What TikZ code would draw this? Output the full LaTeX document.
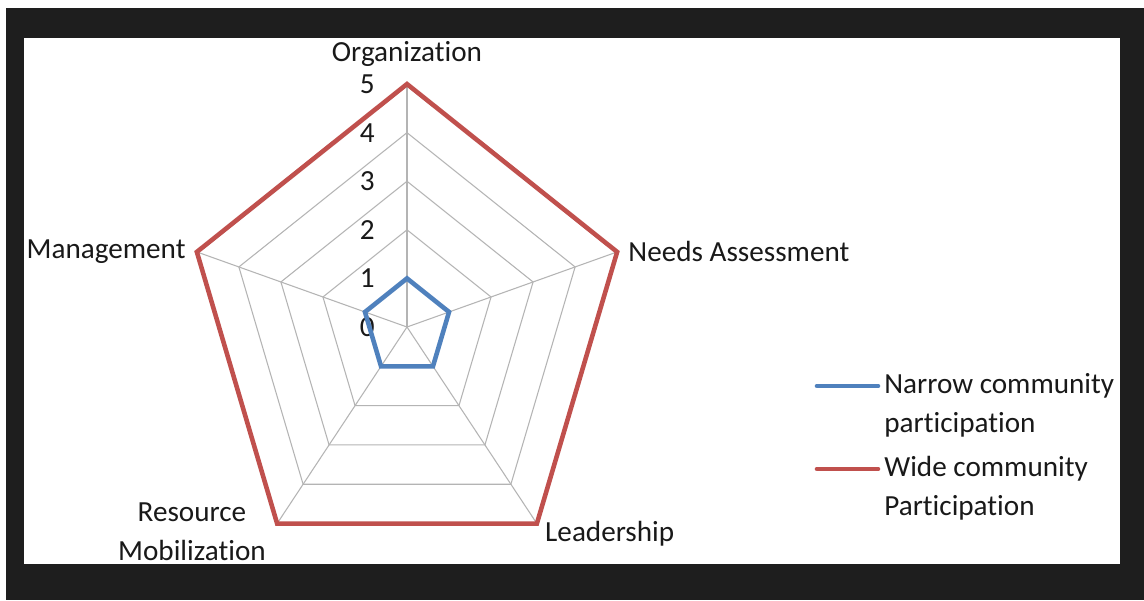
\documentclass[tikz,border=0pt]{standalone}
\usepackage{fontspec}
\setmainfont{Carlito}[RawFeature={-liga}]
\usetikzlibrary{positioning}
\definecolor{framegray}{HTML}{1E1E1E}
\definecolor{gridgray}{HTML}{B4B4B4}
\definecolor{narrowblue}{HTML}{4F81BD}
\definecolor{widered}{HTML}{C0504D}
\tikzset{
  lbl/.style={inner sep=0pt, text=black!90, font=\fontsize{16.6}{22}\selectfont},
  gridline/.style={gridgray, line width=0.6pt},
  series/.style={line width=2.6pt, line join=miter}
}

\begin{document}
\begin{tikzpicture}[x=0.02cm,y=-0.02cm]
            \useasboundingbox (0,0) rectangle (1144,600);
            \fill[white] (0,0) rectangle (1144,600);
            \fill[framegray] (6,8) rectangle (1144,600);
            \fill[white] (24,38) rectangle (1120,564);
            \coordinate (c) at (407,327);
            \begin{scope}[shift={(c)},x=0.884cm,y=0.972cm]
                \foreach \a in {90,162,234,306,18}
                    \draw[gridline] (0,0) -- (\a:5);
                \foreach \r in {1,2,3,4}
                    \draw[gridline] (90:\r) -- (162:\r) -- (234:\r) -- (306:\r) -- (18:\r) -- cycle;
                \foreach \r in {0,1,2,3,4,5}
                    \node[lbl] (t\r) at (-0.9,\r) {\r};
                \coordinate (org) at (90:5);
                \coordinate (man) at (162:5);
                \coordinate (res) at (234:5);
                \coordinate (lead) at (306:5);
                \coordinate (needs) at (18:5);
                \draw[series,widered] (org) -- (man) -- (res) -- (lead) -- (needs) -- cycle;
                \draw[series,narrowblue] (90:1) -- (162:1) -- (234:1) -- (306:1) -- (18:1) -- cycle;
            \end{scope}
            \node[lbl, above=0.34cm of org] (lorg) {Organization};
            \node[lbl, left=0.22cm of man] (lman) {Management};
            \node[lbl, right=0.22cm of needs] (lneeds) {Needs Assessment};
            \node[lbl, below right=-0.06cm and 0.16cm of lead] (llead) {Leadership};
            \node[lbl, align=center, left=0.22cm of res, yshift=-0.16cm] (lres) {Resource\\Mobilization};
            % legend
            \coordinate (kn) at (878,386);
            \coordinate (kw) at (878,469);
            \draw[series,narrowblue,line cap=round] (kn) -- ++(-61,0);
            \draw[series,widered,line cap=round] (kw) -- ++(-61,0);
            \node[lbl, align=left, anchor=west] (legn) at (884,405) {Narrow community\\participation};
            \node[lbl, align=left, anchor=west] (legw) at (884,488) {Wide community\\Participation};
        \end{tikzpicture}
\end{document}
